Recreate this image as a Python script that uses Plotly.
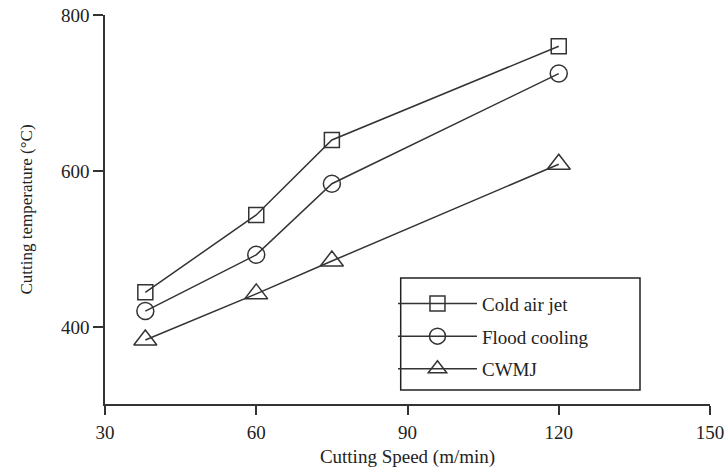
import plotly.graph_objects as go

speed = [38, 60, 75, 120]
cold_air_jet = [445, 544, 640, 760]
flood_cooling = [421, 493, 584, 725]
cwmj = [384, 443, 485, 609]

series_names = ["Cold air jet", "Flood cooling", "CWMJ"]
x_ticks = [30, 60, 90, 120, 150]
y_ticks = [400, 600, 800]

FONT = "Liberation Serif"
INK = "#222222"
LINE = "#333333"

fig = go.Figure()
specs = [
    (series_names[0], cold_air_jet, "square-open", 15),
    (series_names[1], flood_cooling, "circle-open", 17),
    (series_names[2], cwmj, "triangle-up-open", 20),
]
for i, (name, vals, sym, sz) in enumerate(specs):
    fig.add_trace(go.Scatter(
        x=speed, y=vals, name=name, mode="lines+markers",
        legendgroup=f"g{i}",
        line=dict(color=LINE, width=1.5),
        marker=dict(symbol=sym, size=sz, color=LINE, line=dict(width=1.5, color=LINE)),
    ))

fig.update_layout(
    width=727, height=468, autosize=False,
    margin=dict(l=105, r=17, t=15, b=64),
    paper_bgcolor="white", plot_bgcolor="white",
    font=dict(family=FONT, size=18, color=INK),
    showlegend=True,
    legend=dict(
        x=0.476, y=0.307, xanchor="left", yanchor="top",
        bgcolor="rgba(0,0,0,0)", borderwidth=0,
        font=dict(family=FONT, size=19, color=INK),
        itemwidth=79, tracegroupgap=5, traceorder="grouped",
    ),
    shapes=[dict(type="rect", xref="paper", yref="paper",
                 x0=(400.7 - 105) / 605, x1=(640 - 105) / 605,
                 y0=(404 - 390) / 389, y1=(404 - 278) / 389,
                 line=dict(color="#222222", width=1.5))],
)
fig.update_xaxes(
    range=[30, 150], tickvals=x_ticks, ticktext=[str(v) for v in x_ticks],
    automargin=False, ticklabeloverflow="allow",
    showgrid=False, zeroline=False, showline=True, linecolor=LINE, linewidth=1.5,
    ticks="outside", ticklen=9, tickwidth=1.5, tickcolor=LINE,
    tickfont=dict(family=FONT, size=19, color=INK), ticklabelstandoff=1,
    title=dict(text="Cutting Speed (m/min)", font=dict(family=FONT, size=19, color=INK), standoff=13),
)
fig.update_yaxes(
    range=[302, 800], tickvals=y_ticks, ticktext=[str(v) for v in y_ticks],
    automargin=False, ticklabeloverflow="allow",
    showgrid=False, zeroline=False, showline=True, linecolor=LINE, linewidth=1.5,
    ticks="outside", ticklen=10, tickwidth=1.5, tickcolor=LINE,
    tickfont=dict(family=FONT, size=19, color=INK), ticklabelstandoff=0,
    title=dict(text="Cutting temperature (°C)", font=dict(family=FONT, size=17, color=INK), standoff=24),
)
fig.write_html("out.html", config={"displayModeBar": False},
               post_script="document.body.style.margin='0';")
